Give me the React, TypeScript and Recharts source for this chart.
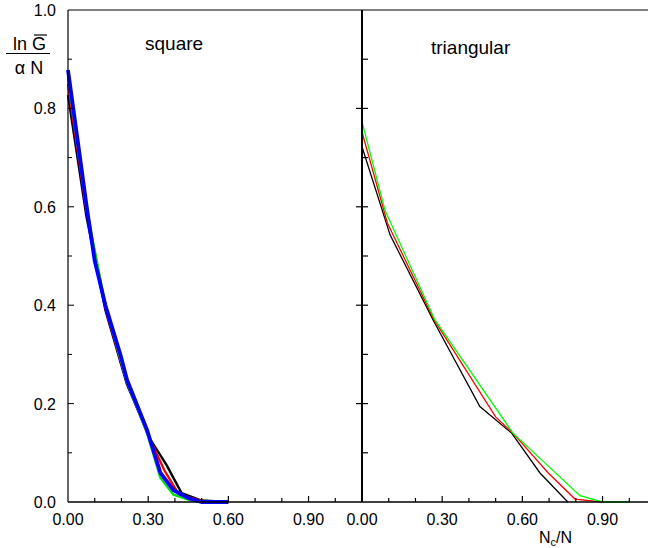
import { LineChart, Line, XAxis, YAxis } from 'recharts'

// square lattice, four system sizes
const sqBlackX = [0, 0.069, 0.14, 0.22, 0.307, 0.369, 0.425, 0.5, 0.6]
const sqBlackY = [0.827, 0.58, 0.39, 0.24, 0.128, 0.075, 0.018, 0.003, 0]
const sqRedX = [0, 0.07, 0.14, 0.22, 0.3, 0.36, 0.415, 0.5, 0.6]
const sqRedY = [0.85, 0.59, 0.395, 0.245, 0.135, 0.065, 0.015, 0.002, 0]
const sqGreenX = [0, 0.07, 0.14, 0.22, 0.296, 0.345, 0.395, 0.45, 0.5, 0.6]
const sqGreenY = [0.865, 0.595, 0.4, 0.245, 0.14, 0.05, 0.015, 0.005, 0, 0]
const sqBlueX = [0, 0.035, 0.07, 0.1, 0.14, 0.196, 0.221, 0.296, 0.346, 0.395, 0.45, 0.5, 0.6]
const sqBlueY = [0.878, 0.74, 0.6, 0.49, 0.4, 0.3, 0.248, 0.146, 0.059, 0.024, 0.008, 0, 0]

// triangular lattice
const trBlackX = [0, 0.105, 0.266, 0.441, 0.56, 0.666, 0.77]
const trBlackY = [0.722, 0.543, 0.37, 0.194, 0.14, 0.059, 0]
const trRedX = [0, 0.095, 0.27, 0.5, 0.565, 0.697, 0.797, 0.897]
const trRedY = [0.752, 0.567, 0.37, 0.173, 0.14, 0.059, 0.006, 0]
const trGreenX = [0, 0.086, 0.273, 0.565, 0.816, 0.9, 1.0]
const trGreenY = [0.773, 0.593, 0.37, 0.14, 0.013, 0, 0]

const xTicksLeft = [0, 0.1, 0.2, 0.3, 0.4, 0.5, 0.6, 0.7, 0.8, 0.9, 1.0, 1.1]
const xTicksRight = [0, 0.1, 0.2, 0.3, 0.4, 0.5, 0.6, 0.7, 0.8, 0.9, 1.0]
const yTicks = [0, 0.1, 0.2, 0.3, 0.4, 0.5, 0.6, 0.7, 0.8, 0.9, 1.0]

const FONT = '"Liberation Sans", Arial, sans-serif'

const toPoints = (xs: number[], ys: number[]) => xs.map((x, i) => ({ x, y: ys[i] }))

const tenths = (v: number) => Math.round(v * 10)

const BottomTick = (props: any) => {
  const { x, y, payload } = props
  const v = payload.value
  const t = tenths(v)
  const major = t % 3 === 0
  return (
    <g>
      {t > 0 && t < 11 && (
        <line x1={x} x2={x} y1={y} y2={y - (major ? 6 : 4)} stroke="#000" strokeWidth={1.2} />
      )}
      {major && t < 10 && (
        <text x={x} y={y + 23} textAnchor="middle" fontSize={16} fontFamily={FONT} fill="#000">
          {v.toFixed(2)}
        </text>
      )}
    </g>
  )
}

const TopTick = (props: any) => {
  const { x, y, payload } = props
  const t = tenths(payload.value)
  if (t <= 0 || t >= 11) return <g />
  const major = t % 3 === 0
  return <line x1={x} x2={x} y1={y} y2={y + (major ? 6 : 4)} stroke="#000" strokeWidth={1} />
}

const LeftTick = (props: any) => {
  const { x, y, payload } = props
  const v = payload.value
  const t = tenths(v)
  const major = t % 2 === 0
  return (
    <g>
      {t > 0 && t < 10 && (
        <line x1={x} x2={x + (major ? 6 : 4)} y1={y} y2={y} stroke="#000" strokeWidth={1} />
      )}
      {major && t !== 9 && (
        <text x={56} y={y + 6} textAnchor="end" fontSize={16} fontFamily={FONT} fill="#000">
          {v.toFixed(1)}
        </text>
      )}
    </g>
  )
}

const DividerTick = (props: any) => {
  const { x, y, payload } = props
  const t = tenths(payload.value)
  if (t <= 0 || t >= 10) return <g />
  const major = t % 2 === 0
  return (
    <line x1={major ? x - 6 : x} x2={x + 6} y1={y} y2={y} stroke="#000" strokeWidth={1.2} />
  )
}

export default function App() {
  return (
    <div
      style={{
        position: 'fixed',
        left: 0,
        top: 0,
        width: 648,
        height: 548,
        overflow: 'hidden',
        background: '#fff',
      }}
    >
      <div style={{ position: 'absolute', left: 0, top: 0 }}>
        <LineChart width={362} height={548} margin={{ top: 0, right: 0, bottom: 0, left: 0 }}>
          <XAxis
            xAxisId="b"
            dataKey="x"
            type="number"
            domain={[0, 1.1]}
            ticks={xTicksLeft}
            interval={0}
            height={46}
            tickSize={0}
            tickMargin={0}
            tick={BottomTick}
            axisLine={{ stroke: '#000', strokeWidth: 1.5 }}
          />
          <XAxis
            xAxisId="t"
            orientation="top"
            dataKey="x"
            type="number"
            domain={[0, 1.1]}
            ticks={xTicksLeft}
            interval={0}
            height={10}
            tickSize={0}
            tickMargin={0}
            tick={TopTick}
            axisLine={{ stroke: '#000', strokeWidth: 1 }}
          />
          <YAxis
            type="number"
            domain={[0, 1]}
            ticks={yTicks}
            interval={0}
            width={68}
            tickSize={0}
            tickMargin={0}
            tick={LeftTick}
            axisLine={{ stroke: '#000', strokeWidth: 1.2 }}
          />
          <Line xAxisId="b" data={toPoints(sqBlackX, sqBlackY)} dataKey="y" stroke="#000000" strokeWidth={2.4} dot={false} activeDot={false} isAnimationActive={false} />
          <Line xAxisId="b" data={toPoints(sqRedX, sqRedY)} dataKey="y" stroke="#ff0000" strokeWidth={2.4} dot={false} activeDot={false} isAnimationActive={false} />
          <Line xAxisId="b" data={toPoints(sqGreenX, sqGreenY)} dataKey="y" stroke="#00e000" strokeWidth={2.4} dot={false} activeDot={false} isAnimationActive={false} />
          <Line xAxisId="b" data={toPoints(sqBlueX, sqBlueY)} dataKey="y" stroke="#0000ff" strokeWidth={3.8} dot={false} activeDot={false} isAnimationActive={false} />
        </LineChart>
      </div>
      <div style={{ position: 'absolute', left: 332, top: 0 }}>
        <LineChart width={324} height={548} margin={{ top: 0, right: 0, bottom: 0, left: 0 }}>
          <XAxis
            xAxisId="b"
            dataKey="x"
            type="number"
            domain={[0, 1.1]}
            ticks={xTicksRight}
            interval={0}
            height={46}
            tickSize={0}
            tickMargin={0}
            tick={BottomTick}
            axisLine={{ stroke: '#000', strokeWidth: 1.5 }}
          />
          <XAxis
            xAxisId="t"
            orientation="top"
            dataKey="x"
            type="number"
            domain={[0, 1.1]}
            ticks={xTicksRight}
            interval={0}
            height={10}
            tickSize={0}
            tickMargin={0}
            tick={TopTick}
            axisLine={{ stroke: '#000', strokeWidth: 1 }}
          />
          <YAxis
            type="number"
            domain={[0, 1]}
            ticks={yTicks}
            interval={0}
            width={30}
            tickSize={0}
            tickMargin={0}
            tick={DividerTick}
            axisLine={{ stroke: '#000', strokeWidth: 2 }}
          />
          <Line xAxisId="b" data={toPoints(trBlackX, trBlackY)} dataKey="y" stroke="#000000" strokeWidth={1.3} dot={false} activeDot={false} isAnimationActive={false} />
          <Line xAxisId="b" data={toPoints(trRedX, trRedY)} dataKey="y" stroke="#ff0000" strokeWidth={1.3} dot={false} activeDot={false} isAnimationActive={false} />
          <Line xAxisId="b" data={toPoints(trGreenX, trGreenY)} dataKey="y" stroke="#00ff00" strokeWidth={1.3} dot={false} activeDot={false} isAnimationActive={false} />
        </LineChart>
      </div>
      <svg
        width={648}
        height={548}
        style={{ position: 'absolute', left: 0, top: 0, pointerEvents: 'none' }}
      >
        <g fontFamily={FONT} fill="#000">
          <text x={13} y={50} fontSize={18}>ln G</text>
          <line x1={34} x2={47} y1={35} y2={35} stroke="#000" strokeWidth={1.2} />
          <line x1={6} x2={50} y1={53.5} y2={53.5} stroke="#000" strokeWidth={1.2} />
          <text x={29} y={74} fontSize={18} textAnchor="middle">α N</text>
          <text x={145} y={50} fontSize={19}>square</text>
          <text x={431} y={54} fontSize={19}>triangular</text>
          <text x={539} y={543} fontSize={16}>
            N<tspan dy={3} fontSize={11}>c</tspan>
            <tspan dy={-3}>/N</tspan>
          </text>
        </g>
      </svg>
    </div>
  )
}
